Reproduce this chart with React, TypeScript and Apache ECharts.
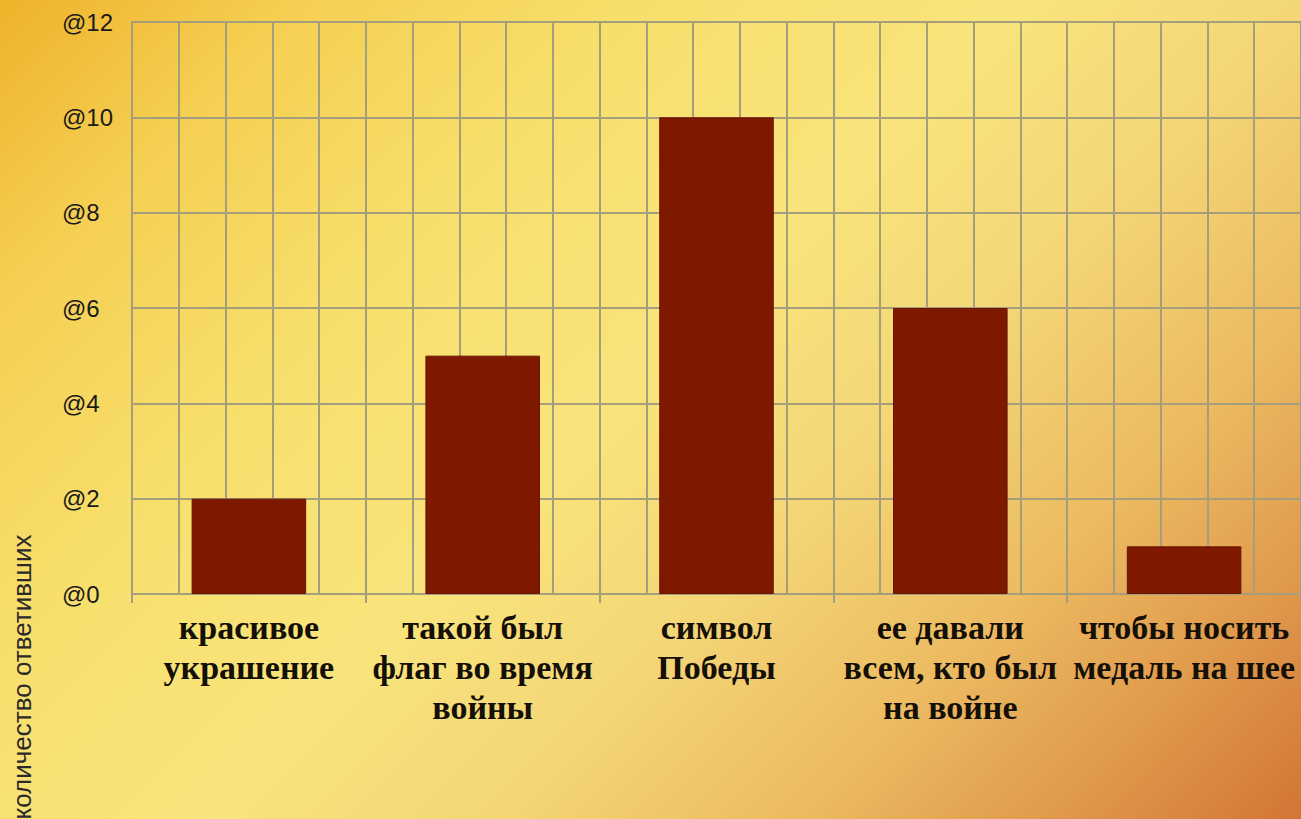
import React, { useEffect, useRef } from "react";
import * as echarts from "echarts";

const categories = [
  "красивое\nукрашение",
  "такой был\nфлаг во время\nвойны",
  "символ\nПобеды",
  "ее давали\nвсем, кто был\nна войне",
  "чтобы носить\nмедаль на шее",
];
const values = [2, 5, 10, 6, 1];
const yTicks = [0, 2, 4, 6, 8, 10, 12];
const axisName = "количество ответивших";

export default function App() {
  const ref = useRef<HTMLDivElement>(null);
  useEffect(() => {
    const chart = echarts.init(ref.current!, undefined, { renderer: "svg" });
    const gridColor = "#A59E7C";
    chart.setOption({
      animation: false,
      backgroundColor: "transparent",
      grid: { left: 132, top: 22, right: -1, bottom: 225, containLabel: false },
      xAxis: [
        {
          type: "category",
          data: categories,
          boundaryGap: true,
          axisLine: { show: true, lineStyle: { color: gridColor, width: 2 } },
          axisTick: { show: true, length: 9, lineStyle: { color: gridColor, width: 2 } },
          splitLine: { show: false },
          axisLabel: {
            interval: 0,
            margin: 13,
            color: "#141008",
            fontFamily: "Liberation Serif",
            fontWeight: "bold",
            fontSize: 34,
            lineHeight: 40,
            align: "center",
          },
        },
        {
          type: "value",
          min: 0,
          max: 25,
          interval: 1,
          position: "top",
          axisLine: { show: false },
          axisTick: { show: false },
          axisLabel: { show: false },
          splitLine: { show: true, lineStyle: { color: gridColor, width: 2 } },
        },
      ],
      yAxis: {
        type: "value",
        min: yTicks[0],
        max: yTicks[yTicks.length - 1],
        interval: 2,
        axisLine: { show: true, lineStyle: { color: gridColor, width: 2 } },
        axisTick: { show: false },
        splitLine: { show: true, lineStyle: { color: gridColor, width: 2 } },
        axisLabel: {
          margin: 70,
          align: "left",
          color: "#1a1a1a",
          fontFamily: "Liberation Sans",
          fontSize: 24,
          formatter: (v: number) => "@" + v,
        },
      },
      graphic: [
        {
          type: "text",
          x: 22,
          y: 677,
          rotation: Math.PI / 2,
          style: {
            text: axisName,
            fontFamily: "Liberation Sans",
            fontSize: 26,
            fill: "#2a2a2a",
            textAlign: "center",
            textVerticalAlign: "middle",
          },
        },
      ],
      series: [
        {
          type: "bar",
          xAxisIndex: 0,
          data: values,
          barWidth: "49%",
          itemStyle: { color: "#7E1900", borderColor: "#6a1400", borderWidth: 1 },
        },
      ],
    });
    return () => chart.dispose();
  }, []);
  return (
    <div
      ref={ref}
      style={{
        position: "fixed",
        left: 0,
        top: 0,
        width: 1301,
        height: 819,
        background:
          "linear-gradient(135deg, #EFB22A 0%, #F5CF52 14%, #F8E06E 32%, #F9E47C 48%, #F4D677 62%, #ECBB62 76%, #E09A4C 88%, #D27536 100%)",
      }}
    />
  );
}
